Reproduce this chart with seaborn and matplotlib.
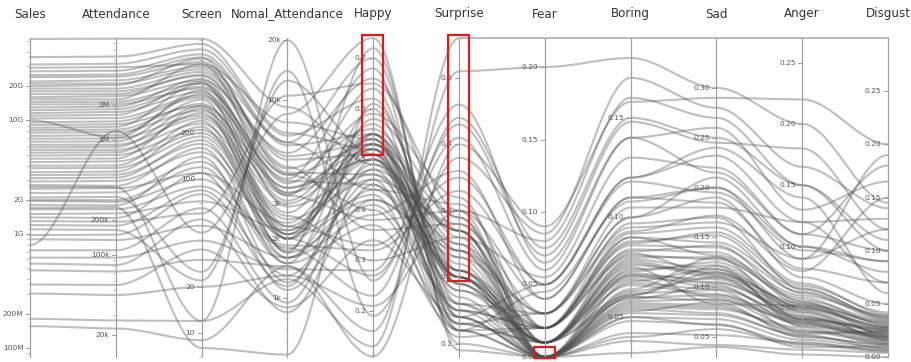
import numpy as np
import pandas as pd
import matplotlib
matplotlib.use("Agg")
import matplotlib.pyplot as plt
import seaborn as sns
from matplotlib.patches import Rectangle

# ---- data: one entry per film ----
dimensions = ["Sales", "Attendance", "Screen", "Nomal_Attendance", "Happy",
              "Surprise", "Fear", "Boring", "Sad", "Anger", "Disgust"]

sales_g = [36, 52, 31, 29, 27, 25, 24, 22, 21, 20,
           19, 18, 17, 16, 15.3, 14.5, 13.8, 13, 12.3, 11.6,
           11, 10.4, 10, 9.6, 9.1, 8.6, 8.2, 7.8, 7.3, 6.9,
           6.5, 6.1, 5.8, 5.5, 5.2, 4.9, 4.6, 4.3, 4.0, 3.8,
           3.5, 3.3, 3.1, 2.9, 2.7, 2.5, 2.3, 2.1, 2.0, 1.95,
           1.8, 1.65, 1.5, 1.4, 1.3, 1.2, 1.1, 0.98, 0.9, 0.8,
           0.72, 0.62, 0.55, 0.48, 0.36, 0.30, 0.18, 0.155, 2.6, 1.7]
attendance_k = [5300, 7600, 4600, 4300, 4000, 3700, 3550, 3300, 3100, 3000,
                2800, 2650, 2500, 2400, 2250, 2150, 2050, 1950, 1850, 1750,
                1650, 1550, 1050, 1450, 1370, 1300, 1230, 1170, 1100, 1030,
                970, 910, 870, 820, 780, 740, 690, 650, 600, 570,
                530, 500, 470, 440, 400, 380, 350, 320, 300, 290,
                270, 250, 230, 210, 195, 180, 165, 150, 135, 1200,
                110, 95, 82, 72, 55, 45, 27, 23, 390, 260]
screen = [760, 820, 700, 560, 650, 620, 580, 540, 520, 610,
          500, 470, 480, 440, 560, 420, 390, 450, 400, 370,
          430, 350, 380, 340, 300, 420, 310, 280, 360, 260,
          330, 250, 300, 230, 270, 210, 290, 200, 240, 190,
          220, 170, 180, 150, 160, 110, 130, 25, 120, 100,
          140, 90, 72, 110, 60, 85, 22, 80, 50, 45,
          65, 40, 55, 30, 35, 20, 12, 9, 12, 8]
nomal_attendance = [6800, 9200, 6600, 7700, 6100, 5900, 4600, 6100, 5200, 4300,
                    5000, 4200, 4500, 5400, 3400, 3900, 4200, 3300, 3800, 3600,
                    2900, 4000, 2100, 3400, 3600, 2300, 3100, 3300, 2200, 3000,
                    2000, 2700, 2100, 2600, 2000, 2500, 1700, 2300, 1700, 2100,
                    1600, 2000, 1750, 2000, 1500, 2400, 1600, 12500, 1500, 1850,
                    1200, 1800, 2200, 1100, 10500, 1300, 14000, 1150, 1600, 8500,
                    950, 1400, 850, 1450, 900, 1300, 1250, 1450, 20000, 520]
happy = [0.52, 0.49, 0.62, 0.54, 0.44, 0.55, 0.36, 0.70, 0.53, 0.47,
         0.51, 0.40, 0.56, 0.66, 0.50, 0.45, 0.53, 0.38, 0.59, 0.52,
         0.47, 0.68, 0.43, 0.54, 0.50, 0.33, 0.55, 0.64, 0.48, 0.52,
         0.42, 0.57, 0.51, 0.30, 0.53, 0.46, 0.72, 0.50, 0.41, 0.55,
         0.49, 0.27, 0.60, 0.52, 0.37, 0.54, 0.44, 0.51, 0.58, 0.32,
         0.48, 0.23, 0.53, 0.42, 0.65, 0.46, 0.19, 0.55, 0.39, 0.74,
         0.50, 0.28, 0.45, 0.16, 0.34, 0.21, 0.13, 0.11, 0.26, 0.61]
surprise = [0.16, 0.27, 0.19, 0.13, 0.21, 0.24, 0.28, 0.14, 0.29, 0.18,
            0.12, 0.13, 0.26, 0.27, 0.20, 0.15, 0.23, 0.30, 0.32, 0.19,
            0.25, 0.10, 0.11, 0.21, 0.14, 0.35, 0.20, 0.16, 0.27, 0.13,
            0.24, 0.20, 0.18, 0.26, 0.22, 0.12, 0.12, 0.20, 0.16, 0.25,
            0.21, 0.41, 0.14, 0.27, 0.12, 0.17, 0.31, 0.20, 0.29, 0.33,
            0.15, 0.44, 0.19, 0.23, 0.30, 0.28, 0.38, 0.15, 0.36, 0.09,
            0.24, 0.46, 0.20, 0.51, 0.14, 0.30, 0.56, 0.40, 0.43, 0.21]
fear = [0.01, 0.00, 0.00, 0.01, 0.02, 0.00, 0.03, 0.00, 0.01, 0.02,
        0.00, 0.03, 0.00, 0.00, 0.01, 0.02, 0.00, 0.04, 0.00, 0.01,
        0.02, 0.00, 0.02, 0.01, 0.00, 0.05, 0.00, 0.00, 0.01, 0.01,
        0.03, 0.00, 0.01, 0.055, 0.00, 0.02, 0.00, 0.01, 0.03, 0.00,
        0.01, 0.06, 0.00, 0.01, 0.045, 0.00, 0.02, 0.01, 0.00, 0.05,
        0.02, 0.075, 0.01, 0.03, 0.00, 0.02, 0.085, 0.00, 0.04, 0.00,
        0.01, 0.065, 0.02, 0.20, 0.05, 0.08, 0.22, 0.09, 0.07, 0.00]
boring = [0.072, 0.064, 0.052, 0.061, 0.092, 0.058, 0.10, 0.042, 0.075, 0.083,
          0.068, 0.105, 0.062, 0.048, 0.078, 0.088, 0.071, 0.11, 0.055, 0.066,
          0.081, 0.04, 0.097, 0.059, 0.074, 0.12, 0.063, 0.05, 0.084, 0.069,
          0.093, 0.057, 0.073, 0.13, 0.067, 0.09, 0.038, 0.079, 0.10, 0.06,
          0.082, 0.14, 0.054, 0.07, 0.108, 0.061, 0.087, 0.077, 0.056, 0.12,
          0.08, 0.15, 0.071, 0.095, 0.05, 0.086, 0.17, 0.06, 0.11, 0.032,
          0.076, 0.14, 0.09, 0.18, 0.118, 0.16, 0.19, 0.158, 0.148, 0.053]
sad = [0.105, 0.13, 0.072, 0.115, 0.16, 0.088, 0.21, 0.052, 0.083, 0.142,
       0.118, 0.18, 0.097, 0.063, 0.112, 0.152, 0.108, 0.20, 0.078, 0.093,
       0.128, 0.058, 0.17, 0.102, 0.122, 0.24, 0.11, 0.068, 0.135, 0.09,
       0.172, 0.082, 0.125, 0.22, 0.098, 0.145, 0.042, 0.118, 0.19, 0.087,
       0.113, 0.26, 0.074, 0.104, 0.20, 0.121, 0.155, 0.11, 0.08, 0.232,
       0.13, 0.25, 0.10, 0.165, 0.062, 0.14, 0.28, 0.092, 0.185, 0.04,
       0.115, 0.215, 0.132, 0.30, 0.195, 0.27, 0.35, 0.29, 0.245, 0.085]
anger = [0.048, 0.04, 0.028, 0.042, 0.07, 0.032, 0.10, 0.022, 0.052, 0.055,
         0.038, 0.12, 0.03, 0.018, 0.05, 0.062, 0.044, 0.09, 0.034, 0.04,
         0.058, 0.02, 0.065, 0.036, 0.047, 0.14, 0.041, 0.024, 0.053, 0.037,
         0.08, 0.029, 0.05, 0.11, 0.043, 0.066, 0.016, 0.051, 0.075, 0.039,
         0.054, 0.13, 0.027, 0.046, 0.10, 0.035, 0.068, 0.049, 0.031, 0.12,
         0.056, 0.15, 0.041, 0.09, 0.021, 0.063, 0.165, 0.038, 0.082, 0.012,
         0.052, 0.11, 0.06, 0.20, 0.097, 0.15, 0.27, 0.22, 0.18, 0.026]
disgust = [0.022, 0.018, 0.008, 0.025, 0.04, 0.015, 0.09, 0.006, 0.032, 0.02,
           0.017, 0.07, 0.024, 0.01, 0.028, 0.035, 0.019, 0.12, 0.012, 0.026,
           0.03, 0.005, 0.038, 0.021, 0.016, 0.06, 0.027, 0.009, 0.033, 0.014,
           0.15, 0.023, 0.029, 0.10, 0.018, 0.036, 0.004, 0.025, 0.05, 0.02,
           0.031, 0.165, 0.011, 0.022, 0.08, 0.019, 0.042, 0.027, 0.013, 0.13,
           0.034, 0.11, 0.024, 0.19, 0.007, 0.037, 0.14, 0.016, 0.07, 0.0,
           0.028, 0.18, 0.039, 0.145, 0.09, 0.10, 0.30, 0.20, 0.12, 0.012]

# axis domains and tick labels
domains = {
    "Sales": (0.083, 53), "Attendance": (13, 7700), "Screen": (7, 830),
    "Nomal_Attendance": (506, 20500), "Happy": (0.109, 0.74),
    "Surprise": (0.08, 0.56), "Fear": (0.0, 0.22), "Boring": (0.03, 0.19),
    "Sad": (0.03, 0.35), "Anger": (0.01, 0.27), "Disgust": (0.0, 0.30),
}
log_axes = ["Sales", "Attendance", "Screen", "Nomal_Attendance"]
ticks = {
    "Sales": ([0.1, 0.2, 1, 2, 10, 20], ["100M", "200M", "1G", "2G", "10G", "20G"]),
    "Attendance": ([20, 100, 200, 1000, 2000], ["20k", "100k", "200k", "1M", "2M"]),
    "Screen": ([10, 20, 100, 200], ["10", "20", "100", "200"]),
    "Nomal_Attendance": ([1000, 2000, 3000, 10000, 20000], ["1k", "2k", "3k", "10k", "20k"]),
    "Happy": ([0.2, 0.3, 0.4, 0.5, 0.6, 0.7], ["0.2", "0.3", "0.4", "0.5", "0.6", "0.7"]),
    "Surprise": ([0.1, 0.2, 0.3, 0.4, 0.5], ["0.1", "0.2", "0.3", "0.4", "0.5"]),
    "Fear": ([0.0, 0.05, 0.10, 0.15, 0.20], ["0.00", "0.05", "0.10", "0.15", "0.20"]),
    "Boring": ([0.05, 0.10, 0.15], ["0.05", "0.10", "0.15"]),
    "Sad": ([0.05, 0.10, 0.15, 0.20, 0.25, 0.30], ["0.05", "0.10", "0.15", "0.20", "0.25", "0.30"]),
    "Anger": ([0.05, 0.10, 0.15, 0.20, 0.25], ["0.05", "0.10", "0.15", "0.20", "0.25"]),
    "Disgust": ([0.0, 0.05, 0.10, 0.15, 0.20, 0.25], ["0.00", "0.05", "0.10", "0.15", "0.20", "0.25"]),
}
# brushed ranges on three axes
brushes = {"Happy": (0.508, 0.745), "Surprise": (0.195, 0.565), "Fear": (-0.001, 0.007)}

films = pd.DataFrame({
    "Sales": sales_g, "Attendance": attendance_k, "Screen": screen,
    "Nomal_Attendance": nomal_attendance, "Happy": happy, "Surprise": surprise,
    "Fear": fear, "Boring": boring, "Sad": sad, "Anger": anger, "Disgust": disgust,
})


def to_unit(dim, v):
    lo, hi = domains[dim]
    v = np.asarray(v, dtype=float)
    if dim in log_axes:
        return (np.log10(v) - np.log10(lo)) / (np.log10(hi) - np.log10(lo))
    return (v - lo) / (hi - lo)


unit = np.column_stack([to_unit(d, films[d]) for d in dimensions])

# smooth curves between neighbouring axes (flat tangents at each axis)
t = np.linspace(0, 1, 28)
ease = 3 * t ** 2 - 2 * t ** 3
records = []
for fid, row in enumerate(unit):
    for i in range(len(dimensions) - 1):
        xs = i + t
        ys = row[i] + (row[i + 1] - row[i]) * ease
        start = 0 if i == 0 else 1
        for x, y in zip(xs[start:], ys[start:]):
            records.append((fid, x, y))
curves = pd.DataFrame(records, columns=["film", "x", "y"])

sns.set_theme(style="white")
plt.rcParams["font.family"] = ["DejaVu Sans"]

W, H = 911, 362
fig = plt.figure(figsize=(W / 100, H / 100), dpi=100)
ax = fig.add_axes([0, 0, 1, 1])
step = 85.8
x0 = 30
top_px, bot_px = 38, 357
span = bot_px - top_px
ax.set_xlim(-x0 / step, (W - x0) / step)
ax.set_ylim(-(H - bot_px) / span, 1 + top_px / span)
ax.axis("off")

sns.lineplot(data=curves, x="x", y="y", units="film", estimator=None, sort=False,
             color="#4d4d4d", alpha=0.36, linewidth=1.5, legend=False, ax=ax)

tick_len = 4 / step
for i, dim in enumerate(dimensions):
    ax.plot([i, i], [0, 1], color="#a0a0a0", lw=0.9, zorder=3)
    lo, hi = domains[dim]
    if dim in log_axes:
        minor = []
        for e in range(-2, 6):
            for k in range(1, 10):
                v = k * 10.0 ** e
                if lo <= v <= hi:
                    minor.append(v)
        for v in minor:
            yv = to_unit(dim, v)
            ax.plot([i - tick_len * 0.7, i], [yv, yv], color="#b0b0b0", lw=0.6, zorder=3)
    for v, lab in zip(*ticks[dim]):
        yv = float(to_unit(dim, v))
        ax.plot([i - tick_len, i], [yv, yv], color="#999999", lw=0.7, zorder=3)
        ax.text(i - tick_len - 0.03, yv, lab, ha="right", va="center",
                fontsize=5.3, color="#555555", zorder=4)
    ax.text(i, 1 + 24 / span, dim, ha="center", va="center",
            fontsize=8.6, color="#333333")

for dim, (a, b) in brushes.items():
    i = dimensions.index(dim)
    ya, yb = float(to_unit(dim, a)), float(to_unit(dim, b))
    ax.add_patch(Rectangle((i - 0.13, ya), 0.25, yb - ya, fill=False,
                           edgecolor="#e01b1b", lw=1.6, zorder=5))

fig.savefig("out.png", dpi=100, facecolor="white")
